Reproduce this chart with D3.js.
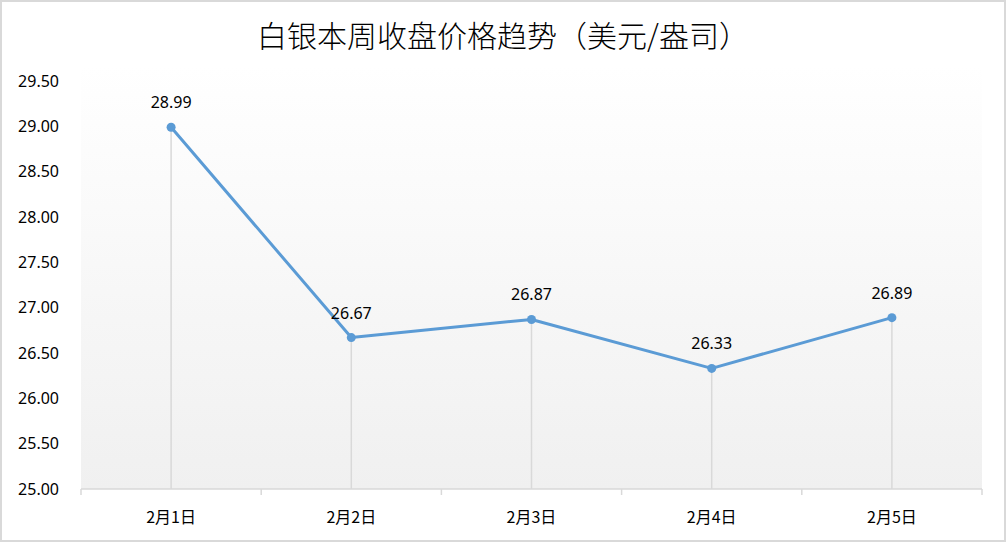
<!DOCTYPE html>
<html><head><meta charset="utf-8">
<script src="https://cdn.jsdelivr.net/npm/d3@7"></script>
<style>body{margin:0;background:#fff}svg{display:block}</style>
</head><body>
<svg id="c" width="1006" height="542"></svg>
<script>
const title = "白银本周收盘价格趋势（美元/盎司）";
const categories = ["2月1日","2月2日","2月3日","2月4日","2月5日"];
const values = [28.99, 26.67, 26.87, 26.33, 26.89];
const yTicks = [25.00,25.50,26.00,26.50,27.00,27.50,28.00,28.50,29.00,29.50];

const svg = d3.select("#c");
const W = 1006, H = 542;
const m = {left:81, right:982, top:81, bottom:489};

const defs = svg.append("defs");
const g = defs.append("linearGradient").attr("id","bg").attr("x1",0).attr("y1",0).attr("x2",0).attr("y2",1);
g.append("stop").attr("offset","0%").attr("stop-color","#ffffff");
g.append("stop").attr("offset","100%").attr("stop-color","#f0f0f0");

svg.append("rect").attr("x",1).attr("y",1).attr("width",W-2).attr("height",H-2)
  .attr("fill","#fff").attr("stroke","#d9d9d9").attr("stroke-width",2);

const x = d3.scaleBand().domain(categories).range([m.left, m.right]);
const y = d3.scaleLinear().domain([25, 29.5]).range([m.bottom, m.top]);

svg.append("rect").attr("x",m.left).attr("y",m.top-15).attr("width",m.right-m.left).attr("height",m.bottom-m.top+15)
  .attr("fill","url(#bg)");

svg.append("text").attr("x",503).attr("y",47).attr("text-anchor","middle")
  .attr("font-family","'Noto Sans CJK SC'").attr("font-weight",300).attr("font-size",30)
  .attr("fill","#000").text(title);

// y labels
svg.append("g").selectAll("text").data(yTicks).join("text")
  .attr("x",59).attr("y",d=>y(d)).attr("dy","0.36em").attr("text-anchor","end")
  .attr("font-family","'Noto Sans'").attr("font-size",16).attr("fill","#000")
  .text(d=>d.toFixed(2));

// drop lines
svg.append("g").selectAll("line").data(values).join("line")
  .attr("x1",(d,i)=>x(categories[i])+x.bandwidth()/2).attr("x2",(d,i)=>x(categories[i])+x.bandwidth()/2)
  .attr("y1",d=>y(d)).attr("y2",m.bottom).attr("stroke","#d9d9d9").attr("stroke-width",1.5);

// x axis
const xa = svg.append("g");
xa.append("line").attr("x1",m.left).attr("x2",m.right).attr("y1",m.bottom).attr("y2",m.bottom)
  .attr("stroke","#d9d9d9").attr("stroke-width",1.5);
const edges = categories.map(c=>x(c)).concat([m.right]);
xa.selectAll("line.t").data(edges).join("line").attr("class","t")
  .attr("x1",d=>d).attr("x2",d=>d).attr("y1",m.bottom).attr("y2",m.bottom+6)
  .attr("stroke","#d9d9d9").attr("stroke-width",1.5);
xa.selectAll("text").data(categories).join("text")
  .attr("x",d=>x(d)+x.bandwidth()/2).attr("y",523).attr("text-anchor","middle")
  .attr("font-family","'Noto Sans CJK SC'").attr("font-size",16).attr("fill","#000")
  .text(d=>d);

// line
const line = d3.line().x((d,i)=>x(categories[i])+x.bandwidth()/2).y(d=>y(d));
svg.append("path").datum(values).attr("d",line).attr("fill","none")
  .attr("stroke","#5b9bd5").attr("stroke-width",3).attr("stroke-linejoin","round");
svg.append("g").selectAll("circle").data(values).join("circle")
  .attr("cx",(d,i)=>x(categories[i])+x.bandwidth()/2).attr("cy",d=>y(d)).attr("r",4.5)
  .attr("fill","#5b9bd5");

svg.append("g").selectAll("text").data(values).join("text")
  .attr("x",(d,i)=>x(categories[i])+x.bandwidth()/2).attr("y",d=>y(d)-19)
  .attr("text-anchor","middle").attr("font-family","'Noto Sans'").attr("font-size",16).attr("fill","#000")
  .text(d=>d.toFixed(2));
</script>
</body></html>
